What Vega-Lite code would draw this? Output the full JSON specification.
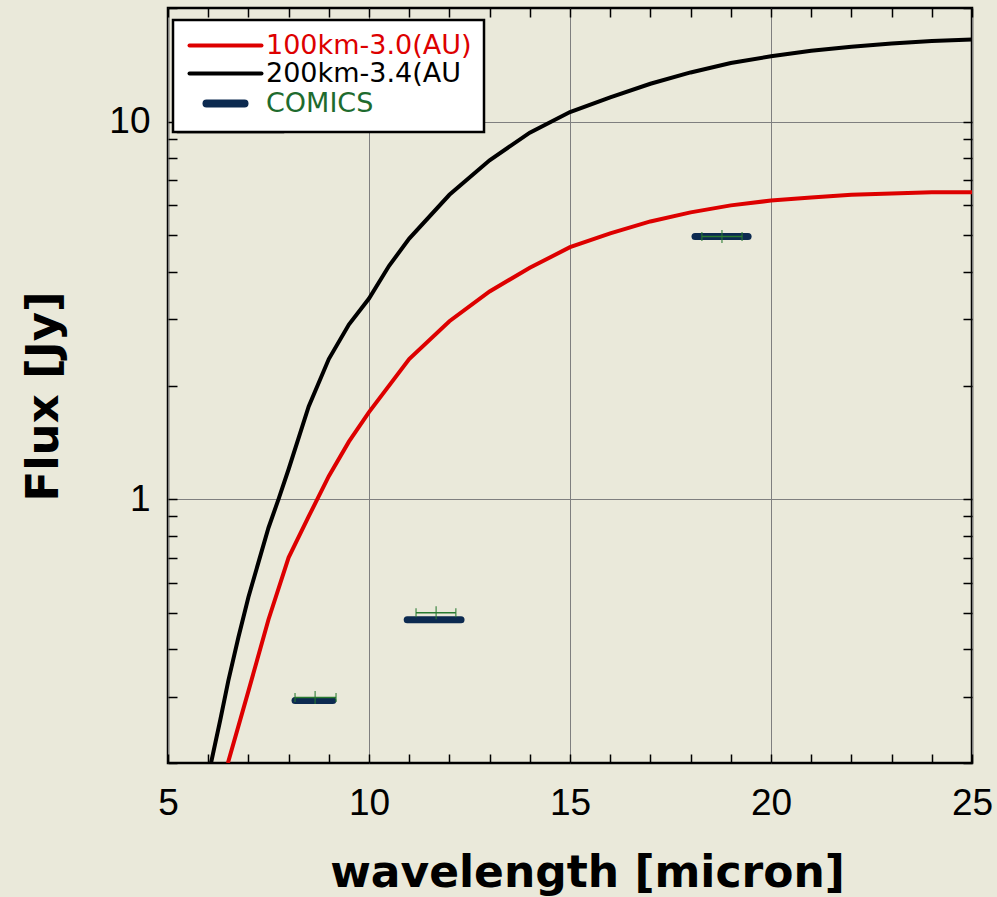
{
  "$schema": "https://vega.github.io/schema/vega-lite/v6.json",
  "width": 804,
  "height": 755,
  "autosize": {"type": "none"},
  "padding": {"left": 168, "top": 8, "right": 25, "bottom": 134},
  "background": "#EAE9DA",
  "config": {
    "font": "Liberation Sans",
    "view": {"stroke": "black", "strokeWidth": 2.5}
  },
  "datasets": {
    "curves": [
      {"series": "200km-3.4(AU", "wl": 6.07, "flux": 0.2},
      {"series": "200km-3.4(AU", "wl": 6.3, "flux": 0.26},
      {"series": "200km-3.4(AU", "wl": 6.5, "flux": 0.33},
      {"series": "200km-3.4(AU", "wl": 6.75, "flux": 0.43},
      {"series": "200km-3.4(AU", "wl": 7.0, "flux": 0.55},
      {"series": "200km-3.4(AU", "wl": 7.25, "flux": 0.68},
      {"series": "200km-3.4(AU", "wl": 7.5, "flux": 0.84},
      {"series": "200km-3.4(AU", "wl": 7.75, "flux": 1.0},
      {"series": "200km-3.4(AU", "wl": 8.0, "flux": 1.2},
      {"series": "200km-3.4(AU", "wl": 8.5, "flux": 1.76},
      {"series": "200km-3.4(AU", "wl": 9.0, "flux": 2.35},
      {"series": "200km-3.4(AU", "wl": 9.5, "flux": 2.9},
      {"series": "200km-3.4(AU", "wl": 10, "flux": 3.4},
      {"series": "200km-3.4(AU", "wl": 10.5, "flux": 4.15},
      {"series": "200km-3.4(AU", "wl": 11, "flux": 4.9},
      {"series": "200km-3.4(AU", "wl": 12, "flux": 6.4},
      {"series": "200km-3.4(AU", "wl": 13, "flux": 7.9},
      {"series": "200km-3.4(AU", "wl": 14, "flux": 9.35},
      {"series": "200km-3.4(AU", "wl": 15, "flux": 10.6},
      {"series": "200km-3.4(AU", "wl": 16, "flux": 11.6},
      {"series": "200km-3.4(AU", "wl": 17, "flux": 12.6},
      {"series": "200km-3.4(AU", "wl": 18, "flux": 13.5},
      {"series": "200km-3.4(AU", "wl": 19, "flux": 14.3},
      {"series": "200km-3.4(AU", "wl": 20, "flux": 14.9},
      {"series": "200km-3.4(AU", "wl": 21, "flux": 15.4},
      {"series": "200km-3.4(AU", "wl": 22, "flux": 15.8},
      {"series": "200km-3.4(AU", "wl": 23, "flux": 16.1},
      {"series": "200km-3.4(AU", "wl": 24, "flux": 16.35},
      {"series": "200km-3.4(AU", "wl": 25, "flux": 16.5},
      {"series": "100km-3.0(AU)", "wl": 6.49, "flux": 0.2},
      {"series": "100km-3.0(AU)", "wl": 7.0, "flux": 0.31},
      {"series": "100km-3.0(AU)", "wl": 7.5, "flux": 0.48},
      {"series": "100km-3.0(AU)", "wl": 8.0, "flux": 0.7},
      {"series": "100km-3.0(AU)", "wl": 8.5, "flux": 0.9},
      {"series": "100km-3.0(AU)", "wl": 9.0, "flux": 1.15},
      {"series": "100km-3.0(AU)", "wl": 9.5, "flux": 1.42},
      {"series": "100km-3.0(AU)", "wl": 10, "flux": 1.7},
      {"series": "100km-3.0(AU)", "wl": 11, "flux": 2.35},
      {"series": "100km-3.0(AU)", "wl": 12, "flux": 2.96},
      {"series": "100km-3.0(AU)", "wl": 13, "flux": 3.55},
      {"series": "100km-3.0(AU)", "wl": 14, "flux": 4.1},
      {"series": "100km-3.0(AU)", "wl": 15, "flux": 4.65},
      {"series": "100km-3.0(AU)", "wl": 16, "flux": 5.06},
      {"series": "100km-3.0(AU)", "wl": 17, "flux": 5.44},
      {"series": "100km-3.0(AU)", "wl": 18, "flux": 5.75},
      {"series": "100km-3.0(AU)", "wl": 19, "flux": 6.0},
      {"series": "100km-3.0(AU)", "wl": 20, "flux": 6.18},
      {"series": "100km-3.0(AU)", "wl": 21, "flux": 6.3},
      {"series": "100km-3.0(AU)", "wl": 22, "flux": 6.4},
      {"series": "100km-3.0(AU)", "wl": 23, "flux": 6.45},
      {"series": "100km-3.0(AU)", "wl": 24, "flux": 6.5},
      {"series": "100km-3.0(AU)", "wl": 25, "flux": 6.5}
    ],
    "comics": [
      {"series": "COMICS", "wl": 8.66, "bar_lo": 8.16, "bar_hi": 9.1, "flux_bar": 0.293, "err_lo": 8.16, "err_hi": 9.18, "flux_err": 0.298},
      {"series": "COMICS", "wl": 11.67, "bar_lo": 10.95, "bar_hi": 12.29, "flux_bar": 0.479, "err_lo": 11.17, "err_hi": 12.16, "flux_err": 0.5},
      {"series": "COMICS", "wl": 18.78, "bar_lo": 18.11, "bar_hi": 19.43, "flux_bar": 4.96, "err_lo": 18.28, "err_hi": 19.28, "flux_err": 4.96}
    ],
    "shadow": [
      {"entry": "s1", "wl": 10, "flux": 1},
      {"entry": "s2", "wl": 10, "flux": 1},
      {"entry": "s3", "wl": 10, "flux": 1}
    ]
  },
  "layer": [
    {
      "layer": [
        {
          "data": {"name": "shadow"},
          "mark": {"type": "point", "opacity": 0},
          "encoding": {
            "x": {
              "field": "wl", "type": "quantitative",
              "scale": {"domain": [5, 25], "nice": false, "zero": false},
              "axis": {
                "orient": "bottom",
                "values": [5,6,7,8,9,10,11,12,13,14,15,16,17,18,19,20,21,22,23,24,25],
                "labelExpr": "datum.value % 5 == 0 ? datum.label : ''",
                "grid": true, "gridColor": "#7f7f7f", "gridWidth": 1,
                "gridOpacity": {"condition": {"test": "datum.value % 5 == 0", "value": 1}, "value": 0},
                "tickSize": -9, "tickWidth": 1.5, "tickColor": "black", "domain": false,
                "labelFontSize": 37, "labelColor": "black", "labelPadding": 31, "labelFlush": false, "labelOverlap": false,
                "title": "wavelength [micron]", "titleFont": "DejaVu Sans", "titleFontSize": 44, "titleFontWeight": "bold", "titleColor": "black",
                "titleX": 419, "titleY": 123, "titleBaseline": "alphabetic", "titleAlign": "center"
              }
            },
            "y": {
              "field": "flux", "type": "quantitative",
              "scale": {"type": "log", "domain": [0.2, 20], "nice": false},
              "axis": {
                "orient": "left",
                "values": [0.2,0.3,0.4,0.5,0.6,0.7,0.8,0.9,1,2,3,4,5,6,7,8,9,10,20],
                "labelExpr": "datum.value == 1 ? '1' : datum.value == 10 ? '10' : ''",
                "grid": true, "gridColor": "#7f7f7f", "gridWidth": 1,
                "gridOpacity": {"condition": {"test": "datum.value == 1 || datum.value == 10", "value": 1}, "value": 0},
                "tickSize": -9, "tickWidth": 1.5, "tickColor": "black", "domain": false,
                "labelFontSize": 37, "labelColor": "black", "labelPadding": 27, "labelOverlap": false, "labelFlush": false,
                "title": "Flux [Jy]", "titleFont": "DejaVu Sans", "titleFontSize": 45, "titleFontWeight": "bold", "titleColor": "black",
                "titleAngle": 270, "titleX": -111, "titleY": 388, "titleBaseline": "alphabetic", "titleAlign": "center"
              }
            },
            "fill": {
              "field": "entry", "type": "nominal",
              "scale": {"domain": ["s1", "s2", "s3"], "range": ["#000000", "#000000", "#000000"]},
              "legend": {
                "title": null, "orient": "none", "legendX": 10, "legendY": 17, "zindex": 0,
                "fillColor": "black", "strokeColor": "black", "padding": 12,
                "symbolType": "stroke", "symbolStrokeWidth": 4, "symbolOffset": 27, "symbolStrokeColor": "black",
                "labelExpr": "datum.value == 's1' ? '\u00a0\u00a0\u00a0\u00a0\u00a0\u00a0\u00a0\u00a0\u00a0\u00a0\u00a0\u00a0\u00a0\u00a0\u00a0\u00a0\u00a0\u00a0\u00a0\u00a0\u00a0\u00a0\u00a0\u00a0' : '\u00a0'",
                "labelFontSize": 27, "labelFont": "DejaVu Sans", "labelColor": "black", "labelOffset": 27, "rowPadding": 0, "labelLimit": 400,
                "encode": {"legend": {"update": {"strokeWidth": {"value": 2.5}}}}
              }
            }
          }
        },
        {
          "data": {"name": "curves"},
          "mark": {"type": "line", "strokeWidth": 4, "clip": true},
          "encoding": {
            "x": {"field": "wl", "type": "quantitative"},
            "y": {"field": "flux", "type": "quantitative"},
            "stroke": {
              "field": "series", "type": "nominal",
              "scale": {"domain": ["100km-3.0(AU)", "200km-3.4(AU", "COMICS"], "range": ["#DD0000", "#000000", "#0C2A50"]},
              "legend": {
                "title": null, "orient": "none", "legendX": 5, "legendY": 12, "zindex": 1,
                "fillColor": "white", "strokeColor": "black", "padding": 12,
                "symbolType": "stroke", "symbolStrokeWidth": 4, "symbolOffset": 27,
                "labelFontSize": 27, "labelFont": "DejaVu Sans", "labelOffset": 27, "rowPadding": 0, "labelLimit": 400,
                "encode": {
                  "legend": {"update": {"strokeWidth": {"value": 2.5}}},
                  "symbols": {"update": {
                    "size": {"signal": "datum.value === 'COMICS' ? 1444 : 5184"},
                    "strokeWidth": {"signal": "datum.value === 'COMICS' ? 8 : 4"},
                    "strokeCap": {"value": "round"}
                  }},
                  "labels": {"update": {
                    "fill": {"signal": "datum.value === 'COMICS' ? '#1E6B2E' : datum.value === '200km-3.4(AU' ? '#000000' : '#DD0000'"}
                  }}
                }
              }
            }
          }
        },
        {
          "data": {"name": "comics"},
          "mark": {"type": "rule", "strokeWidth": 7, "strokeCap": "round"},
          "encoding": {
            "x": {"field": "bar_lo", "type": "quantitative"},
            "x2": {"field": "bar_hi"},
            "y": {"field": "flux_bar", "type": "quantitative"},
            "stroke": {"field": "series", "type": "nominal"}
          }
        },
        {
          "data": {"name": "comics"},
          "mark": {"type": "rule", "strokeWidth": 1.5, "color": "#287A30"},
          "encoding": {
            "x": {"field": "err_lo", "type": "quantitative"},
            "x2": {"field": "err_hi"},
            "y": {"field": "flux_err", "type": "quantitative"}
          }
        },
        {
          "data": {"name": "comics"},
          "mark": {"type": "tick", "orient": "vertical", "size": 9, "thickness": 1.5, "color": "#287A30"},
          "encoding": {
            "x": {"field": "err_lo", "type": "quantitative"},
            "y": {"field": "flux_err", "type": "quantitative"}
          }
        },
        {
          "data": {"name": "comics"},
          "mark": {"type": "tick", "orient": "vertical", "size": 9, "thickness": 1.5, "color": "#287A30"},
          "encoding": {
            "x": {"field": "err_hi", "type": "quantitative"},
            "y": {"field": "flux_err", "type": "quantitative"}
          }
        },
        {
          "data": {"name": "comics"},
          "mark": {"type": "tick", "orient": "vertical", "size": 13, "thickness": 1.5, "color": "#287A30"},
          "encoding": {
            "x": {"field": "wl", "type": "quantitative"},
            "y": {"field": "flux_err", "type": "quantitative"}
          }
        }
      ]
    },
    {
      "data": {"name": "curves"},
      "mark": {"type": "point", "opacity": 0},
      "encoding": {
        "x": {
          "field": "wl", "type": "quantitative",
          "axis": {
            "orient": "top", "values": [5,6,7,8,9,10,11,12,13,14,15,16,17,18,19,20,21,22,23,24,25],
            "labels": false, "grid": false, "domain": false, "title": null,
            "tickSize": -9, "tickWidth": 1.5, "tickColor": "black"
          }
        },
        "y": {
          "field": "flux", "type": "quantitative",
          "axis": {
            "orient": "right", "values": [0.2,0.3,0.4,0.5,0.6,0.7,0.8,0.9,1,2,3,4,5,6,7,8,9,10,20],
            "labels": false, "grid": false, "domain": false, "title": null,
            "tickSize": -9, "tickWidth": 1.5, "tickColor": "black"
          }
        }
      }
    }
  ],
  "resolve": {"axis": {"x": "independent", "y": "independent"}}
}
